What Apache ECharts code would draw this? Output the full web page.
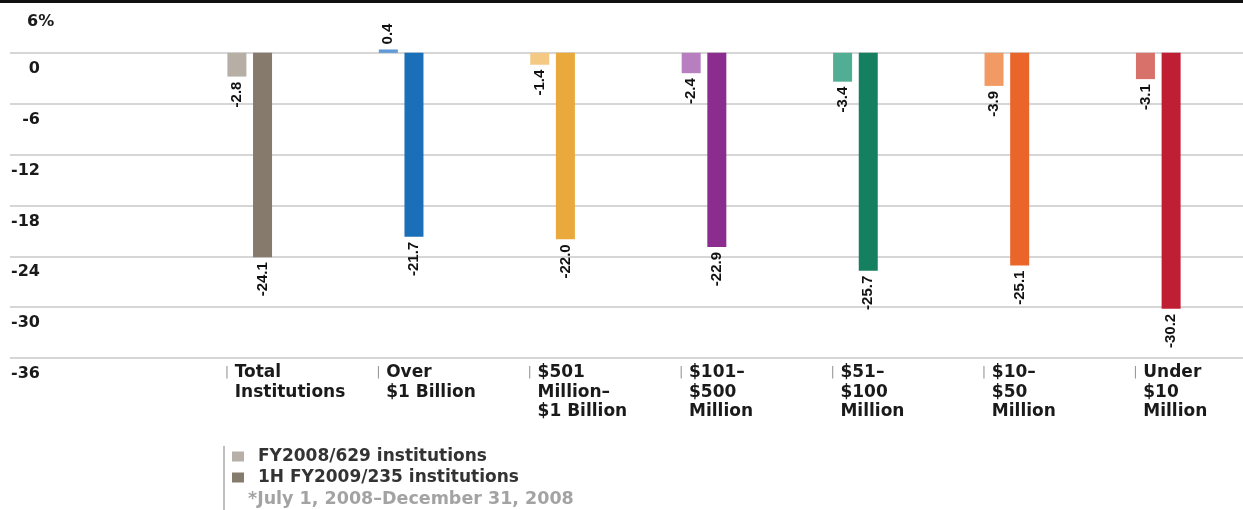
<!DOCTYPE html>
<html>
<head>
<meta charset="utf-8">
<script src="https://cdn.jsdelivr.net/npm/echarts@6/dist/echarts.min.js"></script>
<style>
html,body{margin:0;padding:0;background:#fff;}
#chart{width:1243px;height:510px;}
</style>
</head>
<body>
<div id="chart"></div>
<script>
const categories = ["Total\nInstitutions", "Over\n$1 Billion", "$501\nMillion–\n$1 Billion", "$101–\n$500\nMillion", "$51–\n$100\nMillion", "$10–\n$50\nMillion", "Under\n$10\nMillion"];
const seriesNames = ["FY2008/629 institutions", "1H FY2009/235 institutions"];
const fy2008 = [-2.8, 0.4, -1.4, -2.4, -3.4, -3.9, -3.1];
const h1fy2009 = [-24.1, -21.7, -22.0, -22.9, -25.7, -25.1, -30.2];
const yMin = -36, yMax = 6, yStep = 6;
const footnote = "*July 1, 2008–December 31, 2008";

const lightColors = ["#b7afa5", "#5e9bd6", "#f4c983", "#b77fc0", "#52ad95", "#f29a63", "#d8716a"];
const darkColors  = ["#857a6c", "#1b6eb8", "#e9a93c", "#8b2c8f", "#14805f", "#ea6529", "#c01f33"];
const legendColors = ["#b6b0a8", "#857b6d"];

const lblFont = "'Liberation Sans Narrow','Liberation Sans',Arial,sans-serif";
const mainFont = "'DejaVu Sans',sans-serif";

function makeData(vals, colors) {
  return vals.map((v, i) => ({
    value: v,
    itemStyle: { color: colors[i] },
    label: v < 0
      ? { position: 'bottom', align: 'right', verticalAlign: 'middle' }
      : { position: 'top', align: 'left', verticalAlign: 'middle' }
  }));
}

const barLabel = {
  show: true, rotate: 90, distance: 5,
  fontFamily: lblFont, fontWeight: 'bold', fontSize: 15, color: '#111',
  formatter: p => p.value.toFixed(1)
};

const chart = echarts.init(document.getElementById('chart'), null, { renderer: 'canvas' });
chart.setOption({
  backgroundColor: '#fff',
  animation: false,
  grid: [
    { left: 10, right: 0, top: 2, bottom: 152, outerBoundsMode: 'none' },
    { left: 174, right: 9, top: 2, bottom: 152, outerBoundsMode: 'none' },
    { left: 149, right: 34, top: 2, bottom: 152, outerBoundsMode: 'none' }
  ],
  xAxis: [
    { gridIndex: 0, type: 'category', data: [''], show: false },
    { gridIndex: 1, type: 'category', data: categories, axisLine: { show: false }, axisTick: { show: false }, axisLabel: { show: false } },
    { gridIndex: 2, type: 'category', data: categories, axisLine: { show: false }, axisTick: { show: false },
      axisLabel: {
        interval: 0, align: 'left', margin: 5,
        formatter: v => v.split('\n').map((s, i) => (i === 0 ? '{t||}' : '{s|\u00a0}') + '{b|' + s + '}').join('\n'),
        rich: {
          t: { width: 10, color: '#999', fontSize: 13, fontFamily: mainFont, lineHeight: 19.5 },
          s: { width: 10, fontSize: 12, lineHeight: 19.5 },
          b: { fontFamily: mainFont, fontWeight: 'bold', fontSize: 17, color: '#1a1a1a', lineHeight: 19.5 }
        }
      }
    }
  ],
  yAxis: [
    { gridIndex: 0, type: 'value', min: yMin, max: yMax, interval: yStep,
      axisLine: { show: false }, axisTick: { show: false },
      splitLine: { show: true, lineStyle: { color: '#c8c8c8', width: 1.5 } },
      axisLabel: {
        inside: true, margin: 0, align: 'left', verticalAlign: 'top', padding: [8, 0, 0, 0],
        showMinLabel: true, showMaxLabel: true,
        formatter: v => v === yMax ? '{w|' + v + '%}' : '{v|' + v + '}',
        rich: {
          v: { width: 30, align: 'right', fontFamily: mainFont, fontWeight: 'bold', fontSize: 16, color: '#1a1a1a' },
          w: { padding: [4, 0, 0, 17], fontFamily: mainFont, fontWeight: 'bold', fontSize: 16, color: '#1a1a1a' }
        }
      }
    },
    { gridIndex: 1, type: 'value', min: yMin, max: yMax, interval: yStep, show: false, splitLine: { show: false } },
    { gridIndex: 2, type: 'value', min: yMin, max: yMax, interval: yStep, show: false, splitLine: { show: false } }
  ],
  legend: {
    orient: 'vertical', left: 232, top: 448, padding: 0, itemWidth: 12, itemHeight: 10, itemGap: 4,
    icon: 'rect', selectedMode: false,
    data: seriesNames,
    textStyle: { fontFamily: mainFont, fontWeight: 'bold', fontSize: 17, color: '#333', padding: [0, 0, 0, 9], lineHeight: 17 }
  },
  title: {
    text: footnote, left: 248, top: 490, padding: 0,
    textStyle: { fontFamily: mainFont, fontWeight: 'bold', fontSize: 17.5, color: '#a3a3a3' }
  },
  graphic: [
    { type: 'rect', shape: { x: 0, y: 0, width: 1243, height: 3 }, style: { fill: '#111' }, z: 100 },
    { type: 'line', shape: { x1: 224, y1: 446, x2: 224, y2: 510 }, style: { stroke: '#aaa', lineWidth: 1.5 } }
  ],
  series: [
    { name: seriesNames[0], type: 'bar', xAxisIndex: 1, yAxisIndex: 1, barWidth: 19, barGap: '35%',
      itemStyle: { color: legendColors[0] }, label: barLabel, data: makeData(fy2008, lightColors) },
    { name: seriesNames[1], type: 'bar', xAxisIndex: 1, yAxisIndex: 1, barWidth: 19, barGap: '35%',
      itemStyle: { color: legendColors[1] }, label: barLabel, data: makeData(h1fy2009, darkColors) }
  ]
});
</script>
</body>
</html>
